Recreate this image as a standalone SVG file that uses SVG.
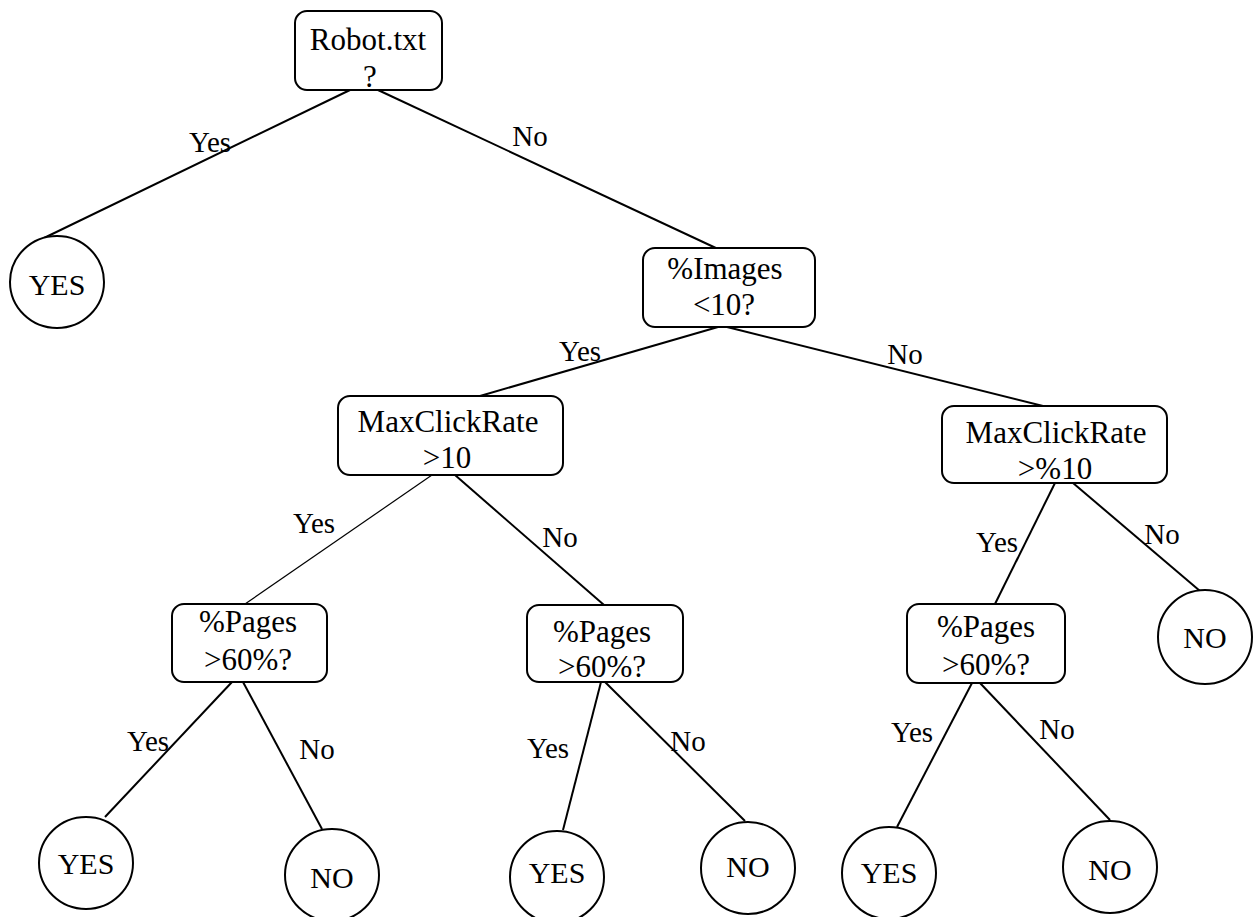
<svg xmlns="http://www.w3.org/2000/svg" width="1259" height="917" viewBox="0 0 1259 917">
<style>
text{font-family:"Liberation Serif","Times New Roman",serif;font-size:30px;fill:#000;text-anchor:middle}
.nt{font-size:31px}
.box{fill:#fff;stroke:#000;stroke-width:2}
.leaf{fill:#fff;stroke:#000;stroke-width:2}
.edge{stroke:#000;stroke-width:2;fill:none}
.thin{stroke-width:1.2}
.lbl{font-size:29px}
</style>
<rect width="1259" height="917" fill="#fff"/>
<g id="connectors">
<line class="edge" x1="350" y1="90" x2="44" y2="238"/>
<line class="edge" x1="378" y1="90" x2="718" y2="249"/>
<line class="edge" x1="718" y1="327" x2="480" y2="396"/>
<line class="edge" x1="727" y1="327" x2="1047" y2="407"/>
<line class="edge thin" x1="432" y1="475" x2="245" y2="604"/>
<line class="edge" x1="455" y1="475" x2="604" y2="605"/>
<line class="edge" x1="1055" y1="483" x2="995" y2="604"/>
<line class="edge" x1="1073" y1="483" x2="1200" y2="591"/>
<line class="edge" x1="232" y1="682" x2="105" y2="817"/>
<line class="edge" x1="243" y1="682" x2="322" y2="829"/>
<line class="edge" x1="601" y1="682" x2="563" y2="830"/>
<line class="edge" x1="605" y1="682" x2="745" y2="821"/>
<line class="edge" x1="972" y1="683" x2="897" y2="827"/>
<line class="edge" x1="980" y1="683" x2="1110" y2="820"/>
<text class="lbl" x="210" y="152">Yes</text>
<text class="lbl" x="530" y="146">No</text>
<text class="lbl" x="580" y="361">Yes</text>
<text class="lbl" x="905" y="364">No</text>
<text class="lbl" x="314" y="533">Yes</text>
<text class="lbl" x="560" y="547">No</text>
<text class="lbl" x="997" y="552">Yes</text>
<text class="lbl" x="1162" y="544">No</text>
<text class="lbl" x="148" y="751">Yes</text>
<text class="lbl" x="317" y="759">No</text>
<text class="lbl" x="548" y="758">Yes</text>
<text class="lbl" x="688" y="751">No</text>
<text class="lbl" x="912" y="742">Yes</text>
<text class="lbl" x="1057" y="739">No</text>
</g>
<g id="robot">
<rect class="box" x="295" y="11" width="147" height="79" rx="12"/>
<text class="nt" x="368" y="50">Robot.txt</text>
<text class="nt" x="370" y="87">?</text>
</g>
<g id="yes-top">
<ellipse class="leaf" cx="57" cy="282" rx="47" ry="46"/>
<text x="57" y="295">YES</text>
</g>
<g id="images">
<rect class="box" x="643" y="248" width="172" height="79" rx="12"/>
<text class="nt" x="725" y="279">%Images</text>
<text class="nt" x="724" y="315">&lt;10?</text>
</g>
<g id="mcr-left">
<rect class="box" x="338" y="396" width="225" height="79" rx="12"/>
<text class="nt" x="448" y="432">MaxClickRate</text>
<text class="nt" x="447" y="468">&gt;10</text>
</g>
<g id="mcr-right">
<rect class="box" x="942" y="406" width="225" height="77" rx="12"/>
<text class="nt" x="1056" y="443">MaxClickRate</text>
<text class="nt" x="1055" y="479">&gt;%10</text>
</g>
<g id="pages-left">
<rect class="box" x="172" y="604" width="155" height="78" rx="12"/>
<text class="nt" x="248" y="632">%Pages</text>
<text class="nt" x="248" y="670">&gt;60%?</text>
</g>
<g id="pages-mid">
<rect class="box" x="527" y="605" width="156" height="77" rx="12"/>
<text class="nt" x="602" y="642">%Pages</text>
<text class="nt" x="602" y="677">&gt;60%?</text>
</g>
<g id="pages-right">
<rect class="box" x="907" y="604" width="158" height="79" rx="12"/>
<text class="nt" x="986" y="637">%Pages</text>
<text class="nt" x="986" y="675">&gt;60%?</text>
</g>
<g id="no-mid">
<ellipse class="leaf" cx="1205" cy="637" rx="47" ry="47"/>
<text x="1205" y="648">NO</text>
</g>
<g id="yes-1">
<ellipse class="leaf" cx="86" cy="863" rx="47" ry="46"/>
<text x="86" y="874">YES</text>
</g>
<g id="no-2">
<ellipse class="leaf" cx="332" cy="875" rx="47" ry="46"/>
<text x="332" y="888">NO</text>
</g>
<g id="yes-3">
<ellipse class="leaf" cx="557" cy="877" rx="47" ry="46"/>
<text x="557" y="883">YES</text>
</g>
<g id="no-4">
<ellipse class="leaf" cx="748" cy="868" rx="47" ry="46"/>
<text x="748" y="877">NO</text>
</g>
<g id="yes-5">
<ellipse class="leaf" cx="889" cy="873" rx="47" ry="46"/>
<text x="889" y="883">YES</text>
</g>
<g id="no-6">
<ellipse class="leaf" cx="1110" cy="867" rx="47" ry="46"/>
<text x="1110" y="880">NO</text>
</g>
</svg>
